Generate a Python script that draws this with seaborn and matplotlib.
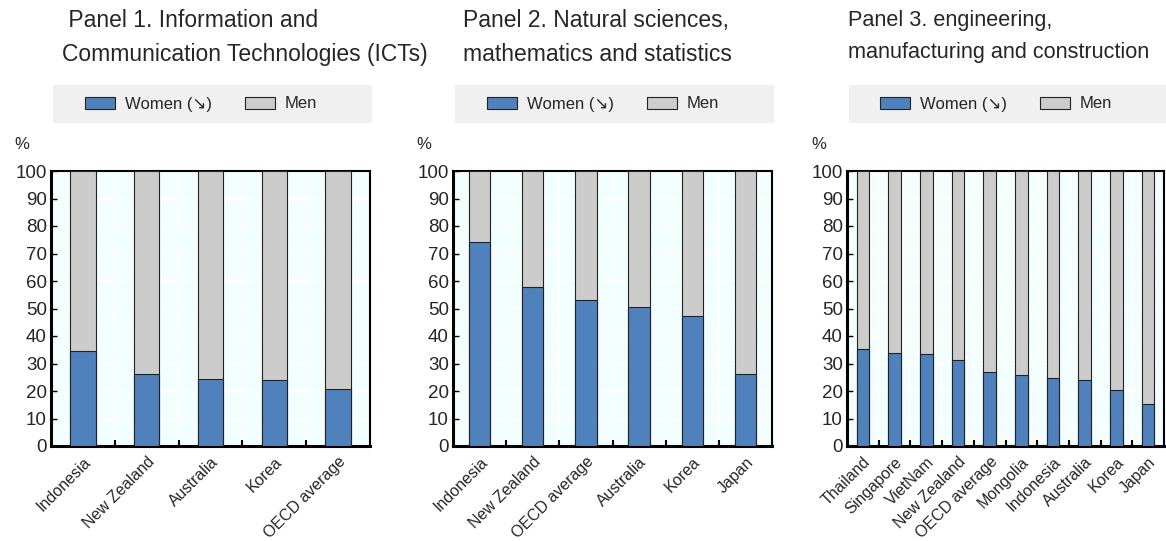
import matplotlib
matplotlib.use("Agg")
import matplotlib.pyplot as plt
import matplotlib.patches as mpatches
from matplotlib.ticker import FixedLocator, MultipleLocator
import seaborn as sns
import pandas as pd

# Share of tertiary graduates by field, women vs men (%)
ict_countries = ["Indonesia", "New Zealand", "Australia", "Korea", "OECD average"]
ict_women = [34.4, 26.1, 24.5, 24.1, 20.8]

sci_countries = ["Indonesia", "New Zealand", "OECD average", "Australia", "Korea", "Japan"]
sci_women = [74.3, 57.8, 53.2, 50.7, 47.1, 26.3]

eng_countries = ["Thailand", "Singapore", "VietNam", "New Zealand", "OECD average",
                 "Mongolia", "Indonesia", "Australia", "Korea", "Japan"]
eng_women = [35.1, 33.8, 33.3, 31.3, 26.9, 25.9, 24.9, 24.1, 20.3, 15.1]

titles = [
    " Panel 1. Information and\nCommunication Technologies (ICTs)",
    "Panel 2. Natural sciences,\nmathematics and statistics",
    "Panel 3. engineering,\nmanufacturing and construction",
]
legend_labels = ["Women (\u2198)", "Men"]

panels = [
    (ict_countries, ict_women),
    (sci_countries, sci_women),
    (eng_countries, eng_women),
]

WOMEN_COLOR = "#4F81BD"
MEN_COLOR = "#CCCCCC"
BG_COLOR = "#F3FEFF"
EDGE = "#222222"

sns.set_theme(style="white")
plt.rcParams["font.family"] = ["Liberation Sans", "DejaVu Sans"]

W, H = 1166, 541
fig = plt.figure(figsize=(W / 100, H / 100), dpi=100)

# axes boxes in pixels: left, right, top, bottom
boxes = [(51, 370, 171, 446), (453, 772, 171, 446), (847, 1164, 171, 446)]
title_x = [62, 463, 848]
title_size = [16.5, 16.5, 15.6]

for i, ((cats, women), (l, r, t, b)) in enumerate(zip(panels, boxes)):
    ax = fig.add_axes([l / W, 1 - b / H, (r - l) / W, (b - t) / H])
    men = [100 - w for w in women]
    df = pd.DataFrame({"country": cats, "women": women, "men": men})
    df["total"] = df["women"] + df["men"]

    ax.set_facecolor(BG_COLOR)
    sns.barplot(data=df, x="country", y="total", color=MEN_COLOR, width=0.4,
                edgecolor=EDGE, linewidth=0.8, saturation=1, ax=ax, zorder=3)
    sns.barplot(data=df, x="country", y="women", color=WOMEN_COLOR, width=0.4,
                edgecolor=EDGE, linewidth=0.8, saturation=1, ax=ax, zorder=4)

    n = len(cats)
    ax.set_xlim(-0.5, n - 0.5)
    ax.set_ylim(0, 100)
    ax.yaxis.set_major_locator(MultipleLocator(10))
    ax.xaxis.set_minor_locator(FixedLocator([k + 0.5 for k in range(n - 1)]))

    # white grid: horizontal at every 10, vertical between categories
    ax.grid(axis="y", which="major", color="white", linewidth=1.2, zorder=1)
    ax.grid(axis="x", which="minor", color="white", linewidth=1.2, zorder=1)
    ax.grid(axis="x", which="major", visible=False)
    ax.set_axisbelow(True)

    ax.set_xlabel("")
    ax.set_ylabel("")
    ax.set_xticks(range(n))
    ax.set_xticklabels(cats, rotation=45, ha="right", rotation_mode="anchor",
                       fontsize=11.5)
    ax.tick_params(axis="x", which="major", length=0, pad=6)
    ax.tick_params(axis="x", which="minor", direction="in", length=4,
                   width=1.5, color="black", bottom=True)
    ax.tick_params(axis="y", direction="in", length=4, width=1.0,
                   color="black", left=True, labelsize=13.5, pad=3)

    for side, lw in [("left", 2.2), ("bottom", 2.2), ("top", 1.5), ("right", 1.5)]:
        ax.spines[side].set_visible(True)
        ax.spines[side].set_color("black")
        ax.spines[side].set_linewidth(lw)

    ax.text(-0.09, 1.095, "%", transform=ax.transAxes, ha="center",
            va="center", fontsize=12)

    # legend band above the plot
    band_top, band_bot = 85, 123
    ax.add_patch(mpatches.Rectangle(
        (2 / (r - l), (b - band_bot) / (b - t)),
        1.0, (band_bot - band_top) / (b - t),
        transform=ax.transAxes, facecolor="#F0F0F0", edgecolor="none",
        clip_on=False, zorder=0))
    handles = [
        mpatches.Patch(facecolor=WOMEN_COLOR, edgecolor=EDGE, linewidth=0.8),
        mpatches.Patch(facecolor=MEN_COLOR, edgecolor=EDGE, linewidth=0.8),
    ]
    ax.legend(handles, legend_labels, ncol=2, frameon=False, fontsize=12,
              loc="center", bbox_to_anchor=(0.47, (b - (band_top + band_bot) / 2) / (b - t)),
              handlelength=1.8, handleheight=0.7, columnspacing=2.0,
              handletextpad=0.6)

    size = title_size[i]
    fig.text(title_x[i] / W, 1 - (9 + (16.5 - size)) / H, titles[i],
             ha="left", va="top", fontsize=size,
             linespacing=1.6 * 16.5 / size)

fig.savefig("out.png", dpi=100)
